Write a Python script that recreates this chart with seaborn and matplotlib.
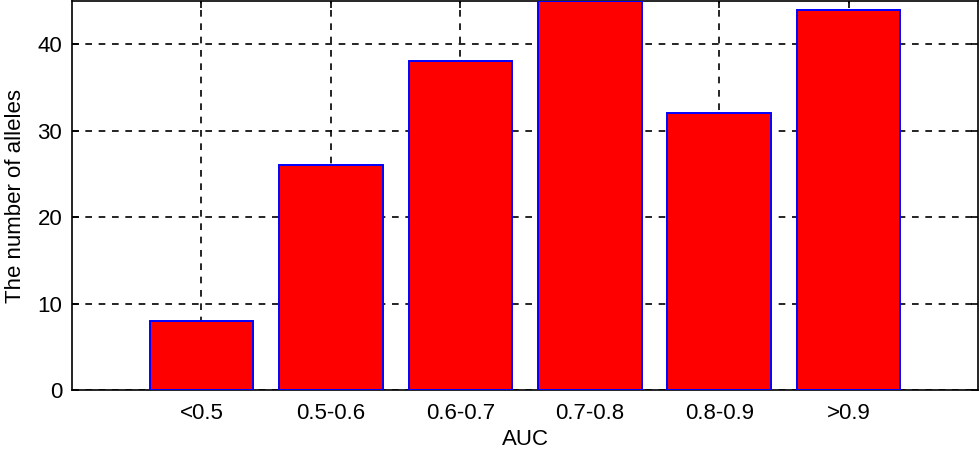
import numpy as np
import pandas as pd
import matplotlib
matplotlib.use("Agg")
import matplotlib.pyplot as plt
import seaborn as sns

categories = ["<0.5", "0.5-0.6", "0.6-0.7", "0.7-0.8", "0.8-0.9", ">0.9"]
counts = [8, 26, 38, 45, 32, 44]

sns.set_theme(style="white")
plt.rcParams["font.family"] = ["Liberation Sans", "DejaVu Sans"]

df = pd.DataFrame({"auc": categories, "n": counts})
fig = plt.figure(figsize=(9.8, 4.49), dpi=100)
ax = fig.add_axes([0.0735, 0.131, 0.9245, 0.867])
sns.barplot(data=df, x="auc", y="n", order=categories, color="#ff0000",
            saturation=1, width=0.8, edgecolor="#0000ff", linewidth=1.4, ax=ax, zorder=3)
ax.set_xlim(-1, 6)
ax.set_ylim(0, 45)
ax.set_yticks([0, 10, 20, 30, 40])
ax.grid(True, color="black", linestyle=(0, (4, 4)), linewidth=1.2, zorder=0)
ax.set_axisbelow(True)
for s in ax.spines.values():
    s.set_color("black"); s.set_linewidth(1.2)
ax.tick_params(axis="both", direction="in", length=5, width=1.2, colors="black",
               labelsize=16, top=True, right=True, bottom=True, left=True, pad=7)
ax.tick_params(axis="x", pad=9)
ax.set_xlabel("AUC", fontsize=16, labelpad=4, color="black")
ax.set_ylabel("The number of alleles", fontsize=16, labelpad=8, color="black")
fig.savefig("out.png", dpi=100)
